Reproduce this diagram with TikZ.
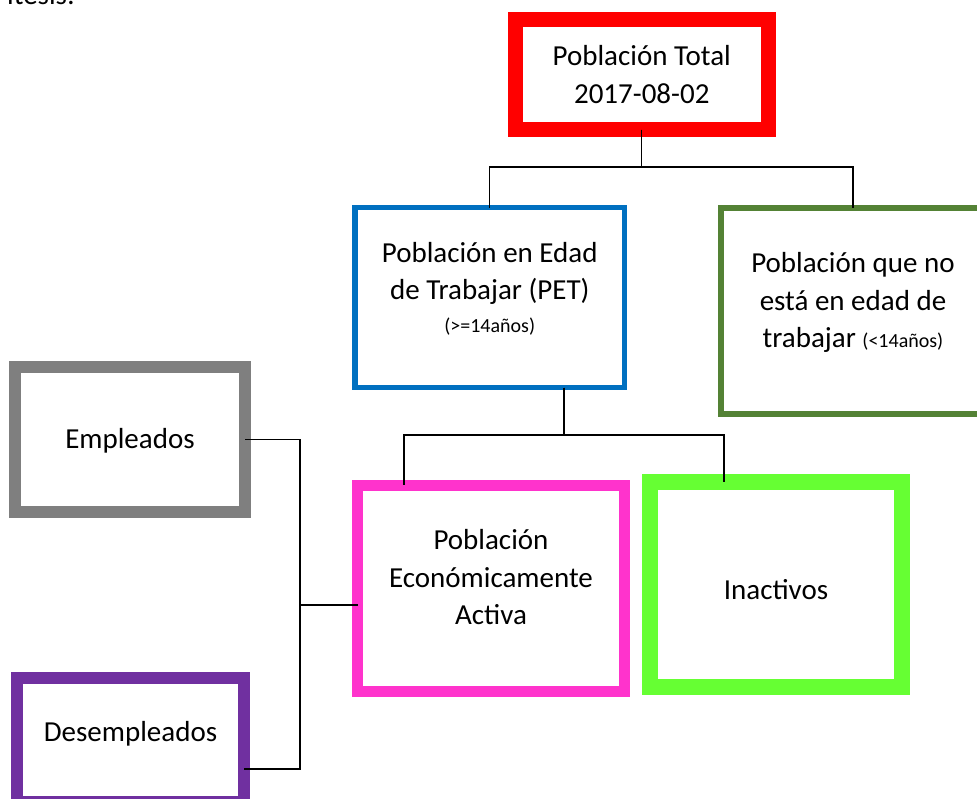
\documentclass[tikz,border=0pt]{standalone}
\usepackage{fontspec}
\setmainfont{Carlito}
\definecolor{cRed}{HTML}{FF0000}
\definecolor{cBlue}{HTML}{0070C0}
\definecolor{cDkGreen}{HTML}{548235}
\definecolor{cPink}{HTML}{FF33CC}
\definecolor{cLime}{HTML}{66FF33}
\definecolor{cGray}{HTML}{7F7F7F}
\definecolor{cPurple}{HTML}{7030A0}
\newcommand{\bodyfont}{\fontsize{29}{37.5}\selectfont}
\newcommand{\smallfont}{\fontsize{20}{24}\selectfont}
\tikzset{
  box/.style={draw, fill=white, rectangle, inner sep=0pt, outer sep=0pt, align=center, font=\bodyfont, text=black},
  conn/.style={draw=black, line width=1.3pt},
}
\begin{document}
\begin{tikzpicture}[x=1pt,y=-1pt]
\useasboundingbox (0,0) rectangle (977,798);
% cut-off text line at the top
\node[anchor=base west, inner sep=0pt, font=\bodyfont] (top) at (7,4) {itesis:};
% boxes
\node[box, draw=cRed, line width=15pt, minimum width=252.5pt, minimum height=110pt] (red) at (641.75,74.5)
  {Población Total\\2017-08-02};
\node[box, draw=cBlue, line width=5.5pt, minimum width=269.5pt, minimum height=180pt, text depth=21pt] (pet) at (489.75,297.5)
  {Población en Edad\\de Trabajar (PET)\\[-5pt]{\smallfont (>=14años)}};
\node[box, draw=cDkGreen, line width=6pt, minimum width=264pt, minimum height=206pt, text depth=22pt] (nopet) at (853,311)
  {Población que no\\está en edad de\\trabajar {\smallfont (<14años)}};
\node[box, draw=cPink, line width=11pt, minimum width=267pt, minimum height=206.5pt, text depth=22pt] (pea) at (491,588.25)
  {Población\\Económicamente\\Activa};
\node[box, draw=cLime, line width=16pt, minimum width=252pt, minimum height=205pt, text height=31pt] (ina) at (776,584.5)
  {Inactivos};
\node[box, draw=cGray, line width=12pt, minimum width=230pt, minimum height=145pt, text height=23pt] (emp) at (130,439.5)
  {Empleados};
\node[box, draw=cPurple, line width=12pt, minimum width=227pt, minimum height=124pt] (des) at (130.5,740)
  {\raisebox{17pt}{Desempleados}};
% connectors
\draw[conn] (red.south) -- ++(0,37.5) -| (pet.north);
\draw[conn] (red.south) -- ++(0,37.5) -| (nopet.north);
\draw[conn] ([xshift=74.25pt]pet.south) -- ++(0,47.5) -| ([xshift=-87pt]pea.north);
\draw[conn] ([xshift=74.25pt]pet.south) -- ++(0,47.5) -| ([xshift=-52pt]ina.north);
\coordinate (bus) at (300,605);
\draw[conn] (emp.east) -| (bus) |- ([yshift=-29pt]des.east);
\draw[conn] (bus) -- ([yshift=-16.75pt]pea.west);
\end{tikzpicture}
\end{document}
